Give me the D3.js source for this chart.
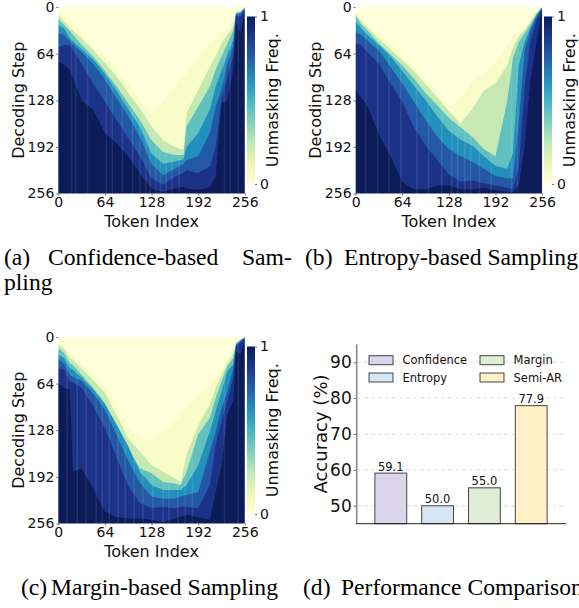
<!DOCTYPE html>
<html>
<head>
<meta charset="utf-8">
<script src="https://cdn.jsdelivr.net/npm/d3@7"></script>
<style>
  html, body { margin: 0; padding: 0; background: #fff; overflow: hidden; }
  text { font-family: "DejaVu Sans", sans-serif; fill: #111; }
  .cap text { font-family: "Liberation Serif", serif; font-size: 23.6px; fill: #000; }
  .axis path { display: none; }
  .axis line { stroke: #333; stroke-width: .7; }
</style>
</head>
<body>
<svg id="chart" width="579" height="608"></svg>
<script>
// Frequency levels traced in each heatmap, and the colour value of the band below each level
const levels = [0.08, 0.2, 0.35, 0.5, 0.65, 0.8, 0.95];
const bandColors = [0.05, 0.24, 0.44, 0.62, 0.77, 0.89, 1];
const axisTicks = [0, 64, 128, 192, 256];

// Each row: decoding step where a column reaches that level
const confTokens = [0, 8, 16, 32, 48, 64, 80, 96, 112, 128, 144, 160, 172, 176, 192, 208, 216, 224, 232, 240, 244, 250, 256];
const confSteps = [
  [5, 13, 22, 36, 52, 68, 84, 105, 128, 148, 130, 110, 95, 90, 68, 50, 45, 36, 29, 20, 6, 5, 0],
  [10, 20, 29, 43, 59, 77, 95, 118, 139, 164, 183, 192, 196, 146, 114, 82, 68, 50, 38, 27, 7, 6, 0],
  [16, 25, 33, 52, 68, 88, 109, 132, 155, 183, 199, 203, 203, 164, 137, 109, 86, 68, 50, 33, 8, 7, 1],
  [25, 29, 43, 58, 72, 92, 115, 140, 165, 201, 215, 212, 209, 192, 173, 141, 109, 88, 66, 45, 9, 8, 1],
  [36, 38, 47, 62, 78, 100, 125, 150, 178, 216, 231, 222, 215, 210, 205, 173, 137, 114, 77, 54, 10, 10, 2],
  [55, 52, 52, 78, 105, 130, 155, 180, 205, 235, 244, 233, 228, 224, 228, 219, 192, 128, 95, 68, 12, 13, 3],
  [75, 79, 86, 128, 141, 173, 187, 205, 228, 249, 254, 249, 247, 249, 251, 247, 233, 132, 128, 86, 20, 36, 5]
];
const confStreaks = [18, 24, 40, 66, 74, 88, 102, 112, 120, 126, 134, 140, 148, 156, 166, 228, 236, 247];

const entrTokens = [0, 8, 16, 32, 48, 64, 80, 96, 112, 128, 144, 160, 176, 192, 208, 216, 224, 232, 240, 248, 256];
const entrSteps = [
  [5, 17, 24, 38, 52, 66, 82, 100, 118, 137, 125, 100, 90, 77, 55, 40, 32, 28, 15, 6, 0],
  [8, 20, 28, 44, 58, 73, 88, 106, 124, 143, 160, 140, 115, 105, 80, 55, 40, 32, 20, 8, 0],
  [12, 24, 32, 50, 65, 80, 98, 118, 135, 152, 165, 178, 195, 205, 130, 70, 48, 36, 24, 10, 0],
  [20, 30, 38, 52, 68, 88, 108, 128, 150, 170, 182, 190, 205, 218, 222, 200, 80, 48, 28, 12, 1],
  [35, 38, 46, 60, 82, 105, 130, 155, 178, 195, 205, 212, 222, 232, 235, 235, 160, 60, 32, 14, 1],
  [50, 52, 62, 78, 105, 130, 165, 190, 210, 230, 240, 238, 242, 245, 248, 250, 220, 110, 45, 20, 2],
  [114, 125, 135, 175, 205, 240, 250, 250, 245, 245, 250, 250, 248, 252, 254, 254, 245, 190, 100, 50, 3]
];
const entrStreaks = [14, 30, 46, 62, 84, 100, 118, 132, 140, 150, 158, 170, 186, 214, 222];

const margTokens = [0, 8, 16, 20, 32, 48, 64, 80, 96, 112, 128, 144, 160, 168, 176, 192, 208, 216, 224, 232, 240, 244, 250, 256];
const margSteps = [
  [8, 13, 24, 26, 36, 50, 66, 93, 125, 137, 143, 130, 116, 105, 95, 80, 65, 55, 43, 29, 17, 6, 2, 0],
  [10, 16, 29, 31, 43, 59, 77, 107, 139, 157, 176, 185, 194, 200, 162, 121, 93, 70, 52, 36, 22, 8, 3, 0],
  [15, 22, 36, 38, 52, 70, 91, 125, 153, 180, 187, 199, 201, 203, 185, 134, 111, 84, 61, 40, 29, 9, 4, 0],
  [24, 29, 43, 45, 56, 72, 92, 120, 150, 185, 203, 210, 210, 210, 203, 176, 130, 102, 75, 47, 38, 10, 5, 1],
  [31, 36, 52, 55, 60, 78, 100, 135, 170, 200, 219, 222, 222, 219, 217, 213, 157, 130, 98, 75, 43, 11, 6, 1],
  [43, 45, 61, 62, 70, 95, 125, 165, 205, 228, 235, 233, 235, 233, 233, 235, 203, 148, 116, 88, 56, 13, 8, 2],
  [63, 70, 72, 185, 180, 208, 240, 247, 249, 249, 251, 254, 249, 247, 244, 247, 251, 213, 178, 107, 88, 20, 24, 3]
];
const margStreaks = [12, 26, 38, 52, 60, 70, 82, 92, 104, 116, 130, 144, 152, 164, 174, 184, 228, 247];

const methods = ["Confidence", "Entropy", "Margin", "Semi-AR"];
const accuracy = [59.1, 50.0, 55.0, 77.9];
const methodColors = ["#dcd6ec", "#d6e6f5", "#dfedd5", "#fff0c6"];
const accTicks = [50, 60, 70, 80, 90];

const svg = d3.select("#chart");
const defs = svg.append("defs");
defs.append("filter").attr("id", "soft").append("feGaussianBlur").attr("stdDeviation", 0.5);

const color = d3.scaleSequential(d3.interpolateYlGnBu).domain([0, 1]);

const grad = defs.append("linearGradient").attr("id", "cbar")
  .attr("x1", 0).attr("x2", 0).attr("y1", 1).attr("y2", 0);
d3.range(0, 1.01, 0.125).forEach(t => grad.append("stop").attr("offset", t).attr("stop-color", color(t)));

function heatmap(left, top, tokens, steps, streaks, cbarLeft, id) {
  const size = 186.5;
  const x = d3.scaleLinear().domain([0, 256]).range([left, left + size]);
  const y = d3.scaleLinear().domain([0, 256]).range([top, top + size]);
  const g = svg.append("g");

  defs.append("clipPath").attr("id", id).append("rect")
    .attr("x", left).attr("y", top).attr("width", size).attr("height", size);

  const body = g.append("g").attr("clip-path", `url(#${id})`).append("g").attr("filter", "url(#soft)");
  body.append("rect").attr("x", left - 2).attr("y", top - 2)
    .attr("width", size + 4).attr("height", size + 4).attr("fill", color(0));

  const area = d3.area()
    .x((d, i) => x(tokens[i]))
    .y0(y(258))
    .y1(d => y(d));
  steps.forEach((row, i) => {
    body.append("path").attr("d", area(row)).attr("fill", color(bandColors[i]));
  });

  // faint vertical streaks below the masked region
  const edge = d3.scaleLinear().domain(tokens).range(steps[2]);
  body.selectAll(".streak").data(streaks).join("line")
    .attr("x1", d => x(d)).attr("x2", d => x(d))
    .attr("y1", d => y(edge(d))).attr("y2", y(256))
    .attr("stroke", "#fff")
    .attr("stroke-opacity", 0.09)
    .attr("stroke-width", 1.6);

  g.append("g").attr("class", "axis").attr("transform", `translate(0,${top + size})`)
    .call(d3.axisBottom(x).tickValues(axisTicks).tickSize(2).tickPadding(2))
    .selectAll("text").attr("font-size", 14);
  g.append("g").attr("class", "axis").attr("transform", `translate(${left},0)`)
    .call(d3.axisLeft(y).tickValues(axisTicks).tickSize(2).tickPadding(2))
    .selectAll("text").attr("font-size", 14);

  g.append("text").attr("x", left + size / 2).attr("y", top + size + 33)
    .attr("text-anchor", "middle").attr("font-size", 16).text("Token Index");
  g.append("text").attr("transform", `translate(${left - 34.5},${top + size / 2}) rotate(-90)`)
    .attr("text-anchor", "middle").attr("font-size", 16).text("Decoding Step");

  // colour bar
  const barTop = top + 9.5, barH = 167.5;
  const cy = d3.scaleLinear().domain([0, 1]).range([barTop + barH, barTop]);
  g.append("rect").attr("x", cbarLeft).attr("y", barTop).attr("width", 8).attr("height", barH)
    .attr("fill", "url(#cbar)");
  g.append("g").attr("class", "axis").attr("transform", `translate(${cbarLeft + 8},0)`)
    .call(d3.axisRight(cy).tickValues([0, 1]).tickFormat(d3.format("d")).tickSize(2).tickPadding(3))
    .selectAll("text").attr("font-size", 14);
  g.append("text").attr("transform", `translate(${cbarLeft + 30.5},${barTop + barH / 2}) rotate(-90)`)
    .attr("text-anchor", "middle").attr("font-size", 16).text("Unmasking Freq.");
}

heatmap(58.3, 7, confTokens, confSteps, confStreaks, 247, "clipA");
heatmap(355.6, 7, entrTokens, entrSteps, entrStreaks, 544, "clipB");
heatmap(58.3, 337, margTokens, margSteps, margStreaks, 247, "clipC");

// bar panel
const bx = d3.scaleBand().domain(methods).range([367.4, 554.6]).paddingInner(0.32).paddingOuter(0.16);
const by = d3.scaleLinear().domain([45, 95]).range([523.7, 344.3]);
const bars = svg.append("g");

bars.selectAll(".grid").data(accTicks).join("line")
  .attr("x1", 357).attr("x2", 566)
  .attr("y1", d => by(d)).attr("y2", d => by(d))
  .attr("stroke", "#ddd").attr("stroke-width", 1).attr("stroke-dasharray", "4 3");

bars.selectAll(".bar").data(methods).join("rect")
  .attr("x", d => bx(d)).attr("width", bx.bandwidth())
  .attr("y", (d, i) => by(accuracy[i]))
  .attr("height", (d, i) => by(45) - by(accuracy[i]))
  .attr("fill", (d, i) => methodColors[i])
  .attr("stroke", "#444").attr("stroke-width", 1);

bars.selectAll(".val").data(methods).join("text")
  .attr("x", d => bx(d) + bx.bandwidth() / 2)
  .attr("y", (d, i) => by(accuracy[i]) - 2.5)
  .attr("text-anchor", "middle").attr("font-size", 11.5)
  .text((d, i) => d3.format(".1f")(accuracy[i]));

const ya = bars.append("g").attr("class", "axis").attr("transform", "translate(356.7,0)")
  .call(d3.axisLeft(by).tickValues(accTicks).tickSize(3).tickPadding(2));
ya.selectAll("text").attr("font-size", 17);
bars.append("line").attr("x1", 356.7).attr("x2", 356.7).attr("y1", 344.3).attr("y2", 523.7)
  .attr("stroke", "#888").attr("stroke-width", 1.6);
bars.append("line").attr("x1", 356).attr("x2", 566).attr("y1", 523.7).attr("y2", 523.7)
  .attr("stroke", "#222").attr("stroke-width", 1);
bars.append("text").attr("transform", "translate(326.5,434) rotate(-90)")
  .attr("text-anchor", "middle").attr("font-size", 18).text("Accuracy (%)");

// legend, two columns
const legend = bars.selectAll(".leg").data(methods).join("g")
  .attr("transform", (d, i) => `translate(${i < 2 ? 369 : 480},${i % 2 ? 373 : 355.7})`);
legend.append("rect").attr("width", 24).attr("height", 9)
  .attr("fill", (d, i) => methodColors[i]).attr("stroke", "#444").attr("stroke-width", 1);
legend.append("text").attr("x", 33.5).attr("y", 8.5).attr("font-size", 11.5).text(d => d);

// captions
const cap = svg.append("g").attr("class", "cap");
[["(a)", 4, 265], ["Confidence-based", 48, 265], ["Sam-", 242, 265], ["pling", 4, 290],
 ["(b)", 305, 265], ["Entropy-based Sampling", 344, 265],
 ["(c)", 21, 595], ["Margin-based Sampling", 51, 595],
 ["(d)", 303, 595], ["Performance Comparison", 341, 595]]
  .forEach(d => cap.append("text").attr("x", d[1]).attr("y", d[2]).text(d[0]));
</script>
</body>
</html>
